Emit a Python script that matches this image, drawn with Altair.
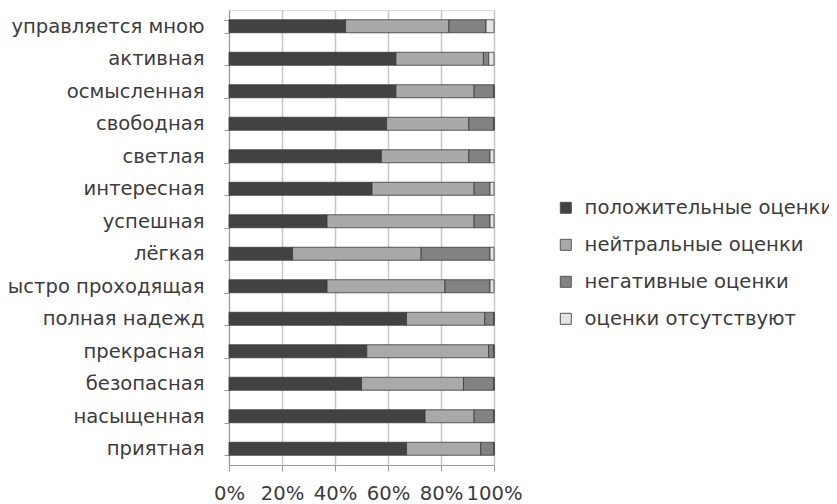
import altair as alt
import pandas as pd

categories = ["управляется мною", "активная", "осмысленная", "свободная", "светлая",
              "интересная", "успешная", "лёгкая", "быстро проходящая", "полная надежд",
              "прекрасная", "безопасная", "насыщенная", "приятная"]
positive = [44, 63, 63, 59.5, 57.5, 54, 37, 24, 37, 67, 52, 50, 74, 67]
neutral = [39, 33, 29.5, 31, 33, 38.5, 55.5, 48.5, 44.5, 29.5, 46, 38.5, 18.5, 28]
negative = [14, 2, 7.5, 9.5, 8, 6, 6, 26, 17, 3.5, 2, 11.5, 7.5, 5]
absent = [3, 2, 0, 0, 1.5, 1.5, 1.5, 1.5, 1.5, 0, 0, 0, 0, 0]

series_names = ["положительные оценки", "нейтральные оценки", "негативные оценки", "оценки отсутствуют"]
series_colors = ["#424242", "#a9a9a9", "#828282", "#e4e4e4"]
x_ticks = [0, 20, 40, 60, 80, 100]

rows = []
for i, cat in enumerate(categories):
    for k, vals in enumerate([positive, neutral, negative, absent]):
        rows.append({"cat": cat, "series": series_names[k], "order": k, "value": vals[i]})
df = pd.DataFrame(rows)

FONT = "DejaVu Sans"
FS = 19.6
TXT = "#3c3c3c"

chart = alt.Chart(df).mark_bar(stroke="#3a3a3a", strokeWidth=0.8).encode(
    y=alt.Y("cat:N", sort=categories, title=None,
            scale=alt.Scale(paddingInner=0.6, paddingOuter=0.3),
            axis=alt.Axis(tickBand="extent", tickSize=5, labelPadding=20,
                          labelFontSize=FS, labelFont=FONT, labelColor=TXT,
                          domainColor="#9a9a9a", tickColor="#9a9a9a", labelLimit=400)),
    x=alt.X("value:Q", stack="zero", title=None,
            scale=alt.Scale(domain=[0, 100], nice=False),
            axis=alt.Axis(values=x_ticks, labelExpr="datum.value + '%'", tickSize=6,
                          labelPadding=13, labelFontSize=FS, labelFont=FONT,
                          labelColor=TXT, domainColor="#9a9a9a", tickColor="#9a9a9a",
                          gridColor="#c8c8c8", gridWidth=1.5, labelFlush=False)),
    color=alt.Color("series:N", sort=series_names,
                    scale=alt.Scale(domain=series_names, range=series_colors),
                    legend=alt.Legend(orient="none", legendX=327, legendY=188, title=None,
                                      symbolType="square", symbolSize=121,
                                      symbolStrokeColor="#555555", symbolStrokeWidth=1,
                                      labelFontSize=FS, labelFont=FONT, labelColor=TXT,
                                      rowPadding=16, labelOffset=9, padding=0, labelLimit=400)),
    order=alt.Order("order:Q"),
).properties(
    width=265, height=455,
    padding={"left": 221, "top": 2, "right": 335, "bottom": 38},
    autosize=alt.AutoSizeParams(type="none"),
).configure_view(stroke=None).configure(background="white")

chart.save("out.html", embed_options={"renderer": "svg", "actions": False})
